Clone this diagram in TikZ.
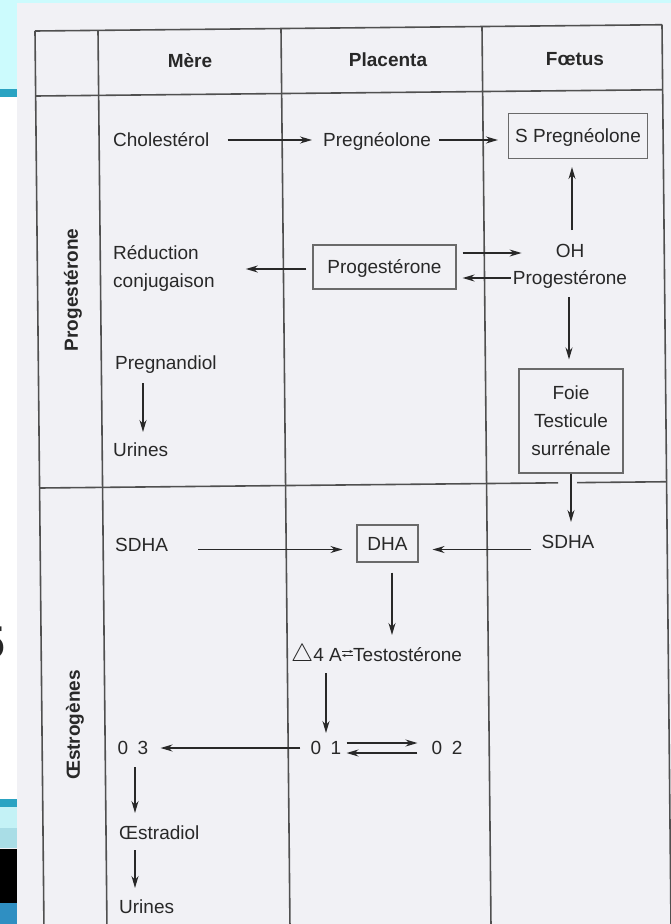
\documentclass[tikz,border=0pt]{standalone}
\usepackage{fontspec}
\setmainfont{Liberation Sans}
\usetikzlibrary{arrows.meta}
\definecolor{paper}{HTML}{F1F1F5}
\definecolor{ink}{HTML}{282828}
\definecolor{rule}{HTML}{505050}
\definecolor{boxc}{HTML}{6A6A6A}
\definecolor{cyanbg}{HTML}{CCFBFD}
\definecolor{tealbar}{HTML}{2AA3C2}
\definecolor{lightc}{HTML}{C4F2F6}
\definecolor{midc}{HTML}{A9DDE6}
\definecolor{bluec}{HTML}{2F8FC2}
\begin{document}
\begin{tikzpicture}[x=1pt,y=-1pt,
  txt/.style={font=\fontsize{19}{28}\selectfont, text=ink, inner sep=0pt, text height=13.6pt, text depth=0pt},
  txtm/.style={font=\fontsize{19}{28}\selectfont, text=ink, inner sep=0pt},
  hdr/.style={font=\bfseries\fontsize{19}{23}\selectfont, text=ink, inner sep=0pt, text height=13.6pt, text depth=0pt},
  boxed/.style={draw=boxc, line width=1.1pt},
  arr/.style={draw=ink, line width=1.3pt, -{Stealth[length=12pt,width=7pt]}},
  tinyarr/.style={draw=ink, line width=0.7pt, -{Stealth[length=3.5pt,width=3pt]}},
  gridl/.style={draw=rule, line width=1.6pt},
]
\useasboundingbox (0,0) rectangle (671,924);
% background
\fill[paper] (0,0) rectangle (671,924);
\fill[cyanbg] (0,0) rectangle (671,2.5);
\fill[cyanbg] (0,0) rectangle (17,89);
\fill[tealbar] (0,89) rectangle (17,97);
\fill[white] (0,97) rectangle (17,799);
\fill[tealbar] (0,799) rectangle (17,807);
\fill[lightc] (0,807) rectangle (17,828);
\fill[midc] (0,828) rectangle (17,848);
\fill[black] (0,849) rectangle (17,903);
\fill[bluec] (0,903) rectangle (17,924);
\node[font=\bfseries\fontsize{46}{46}\selectfont, text=black!85, anchor=east, inner sep=0pt] (five) at (5.5,643) {5};

% table frame (slightly skewed like the photo)
\draw[gridl] (35,31) -- (44,931);
\draw[gridl] (98,30.37) -- (107,930.37);
\draw[gridl] (281,28.54) -- (290,928.54);
\draw[gridl] (482,26.53) -- (491,926.53);
\draw[gridl] (662,24.73) -- (671,924.73);
\draw[gridl] (35,31) -- (662,24.73);
\draw[gridl] (35.65,96) -- (662.65,89.73);
\draw[gridl] (39.57,488) -- (558,482.82);
\draw[gridl] (577,482.63) -- (666.57,481.73);

% headers
\node[hdr] (hM) at (190,61) {Mère};
\node[hdr] (hP) at (388,60) {Placenta};
\node[hdr] (hF) at (575,59) {Fœtus};
\node[hdr, rotate=90] (lprog) at (71,290) {Progestérone};
\node[hdr, rotate=90] (loest) at (73,725) {Œstrogènes};

% Progesterone section
\node[txt, anchor=west] (chol) at (113,140) {Cholestérol};
\node[txt, anchor=west] (preg) at (323,140) {Pregnéolone};
\node[txt, boxed, minimum width=139pt, minimum height=45pt] (spreg) at (578,136) {S Pregnéolone};
\node[txt, boxed, minimum width=143pt, minimum height=44pt] (pbox) at (384.5,267) {Progestérone};
\node[txt] (oh) at (570,251) {OH};
\node[txt] (progf) at (570,278) {Progestérone};
\node[txtm, anchor=west, align=left] (reduc) at (113,268) {Réduction\\conjugaison};
\node[txt, anchor=west] (pregn) at (115,363) {Pregnandiol};
\node[txt, anchor=west] (urin1) at (113,450) {Urines};
\node[txtm, boxed, minimum width=104pt, minimum height=104pt, align=center] (foie) at (571,421) {Foie\\Testicule\\surrénale};

\draw[arr] ([xshift=18pt]chol.east) -- ([xshift=-11pt]preg.west);
\draw[arr] ([xshift=8pt]preg.east) -- ([xshift=-10pt]preg.east -| spreg.west);
\draw[arr] ([xshift=2pt,yshift=14pt]oh.north) -- ([xshift=2pt,yshift=-8pt]oh.north |- spreg.south);
\draw[arr] ([xshift=6pt,yshift=14pt]pbox.east) -- ([xshift=-34pt,yshift=14pt]pbox.east -| oh.west);
\draw[arr] ([xshift=-2pt]progf.west) -- ([xshift=6pt]progf.west -| pbox.east);
\draw[arr] ([xshift=-6pt,yshift=-2pt]pbox.west) -- ([xshift=31pt,yshift=-2pt]pbox.west -| reduc.east);
\draw[arr] ([xshift=-1pt,yshift=-12pt]progf.south) -- ([xshift=-1pt,yshift=9pt]progf.south |- foie.north);
\draw[arr] ([xshift=28pt,yshift=-13pt]pregn.south west) -- ([xshift=28pt,yshift=11pt]pregn.south west |- urin1.north);

% Estrogen section
\node[txt] (sdhaf) at (568,542) {SDHA};
\node[txt, anchor=west] (sdham) at (115,545) {SDHA};
\node[txt, boxed, minimum width=61pt, minimum height=37pt] (dha) at (387.5,543.5) {DHA};
\node[txt, anchor=west] (d4) at (291,655) {{\fontsize{25}{25}\selectfont$\bigtriangleup$}4 A};
\node[txt, anchor=west] (testo) at (353,655) {Testostérone};
\node[txt] (o1) at (326,748) {0\enspace1};
\node[txt] (o2) at (447,748) {0\enspace2};
\node[txt] (o3) at (133,748) {0\enspace3};
\node[txt, anchor=west] (oestr) at (119,833) {Œstradiol};
\node[txt, anchor=west] (urin2) at (119,907) {Urines};

\draw[arr] (foie.south) -- ([yshift=13pt]foie.south |- sdhaf.north);
\draw[arr] ([xshift=30pt,yshift=-6pt]sdham.east |- dha.west) -- ([xshift=-14pt,yshift=-6pt]dha.west);
\draw[arr] ([xshift=-10pt,yshift=-6pt]sdhaf.west |- dha.east) -- ([xshift=14pt,yshift=-6pt]dha.east);
\draw[arr] ([xshift=4.5pt,yshift=-10pt]dha.south) -- ([xshift=4.5pt,yshift=13pt]dha.south |- testo.north);
\draw[tinyarr] ([yshift=3.5pt]d4.east) -- ([yshift=3.5pt]d4.east -| testo.west);
\draw[tinyarr] ([yshift=-0.5pt]d4.east -| testo.west) -- ([yshift=-0.5pt]d4.east);
\draw[arr] ([yshift=-11pt]o1.north |- d4.south) -- ([yshift=8pt]o1.north);
\draw[arr] ([xshift=5pt,yshift=5pt]o1.east) -- ([xshift=-14pt,yshift=5pt]o1.east -| o2.west);
\draw[arr] ([xshift=-14pt,yshift=-5pt]o1.east -| o2.west) -- ([xshift=5pt,yshift=-5pt]o1.east);
\draw[arr] ([xshift=-10pt]o1.west) -- ([xshift=12pt]o1.west -| o3.east);
\draw[arr] ([xshift=2pt,yshift=-12pt]o3.south) -- ([xshift=2pt,yshift=13pt]o3.south |- oestr.north);
\draw[arr] ([xshift=2pt,yshift=-10pt]o3.south |- oestr.south) -- ([xshift=2pt,yshift=12pt]o3.south |- urin2.north);
\end{tikzpicture}
\end{document}
